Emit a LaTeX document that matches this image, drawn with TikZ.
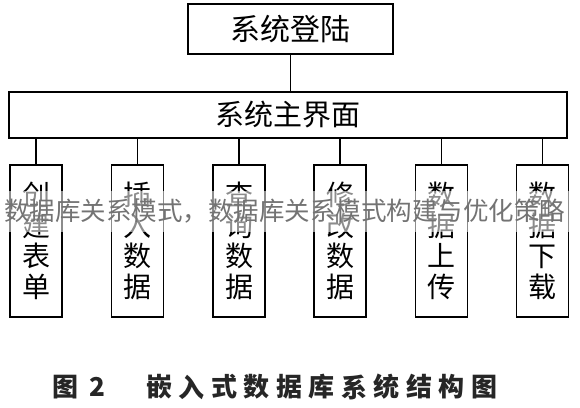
\documentclass[tikz,border=0pt]{standalone}
\usepackage{fontspec}
\setmainfont{Noto Sans CJK SC}
\usetikzlibrary{positioning, calc}
\tikzstyle{frame}=[draw, line width=1.6pt, inner sep=0pt]
\tikzstyle{module}=[frame, minimum width=52pt, minimum height=152pt, align=center,
  font=\fontsize{28pt}{30.5pt}\selectfont]
\tikzstyle{line}=[line width=1.5pt]
\tikzstyle{wmtext}=[text=black!55, font=\fontsize{25.5pt}{27pt}\selectfont, inner sep=0pt]
\tikzstyle{captext}=[text=black!85, font=\fontsize{26pt}{28pt}\selectfont\bfseries, inner sep=0pt]

\begin{document}
\begin{tikzpicture}[x=1pt, y=-1pt]
      \useasboundingbox (0,0) rectangle (580,407);

      \node[frame, minimum width=205pt, minimum height=50pt,
        font=\fontsize{30pt}{31pt}\selectfont] (login) at (290.5,29) {系统登陆};
      \node[frame, minimum width=558pt, minimum height=46pt,
        font=\fontsize{29pt}{30pt}\selectfont] (main) at (288,115) {系统主界面};

      \node[module] (create) at (36,241) {创\\建\\表\\单};
      \node[module] (insert) at (137.5,241) {插\\入\\数\\据};
      \node[module] (query) at (239,241) {查\\询\\数\\据};
      \node[module] (modify) at (340,241) {修\\改\\数\\据};
      \node[module] (upload) at (441.5,241) {数\\据\\上\\传};
      \node[module] (download) at (542.5,241) {数\\据\\下\\载};

      \draw[line] (login) -- (login |- main.north);
      \foreach \m in {create, insert, query, modify, upload, download}{
        \draw[line] (main.south -| \m) -- (\m);
      }

      % watermark band
      \fill[white, opacity=0.55] (0,191) rectangle (580,232);
      \node[wmtext, anchor=west] (watermark) at (4,211)
        {数据库关系模式，数据库关系模式构建与优化策略};

      \node[captext] (fig) at (65,387) {图};
      \node[captext] (fignum) at (97.5,387) {2};
      \foreach \c [count=\i] in {嵌,入,式,数,据,库,系,统,结,构,图}{
        \node[captext] (cap\i) at (159+32.5*\i-32.5,387) {\c};
      }

    \end{tikzpicture}
\end{document}
